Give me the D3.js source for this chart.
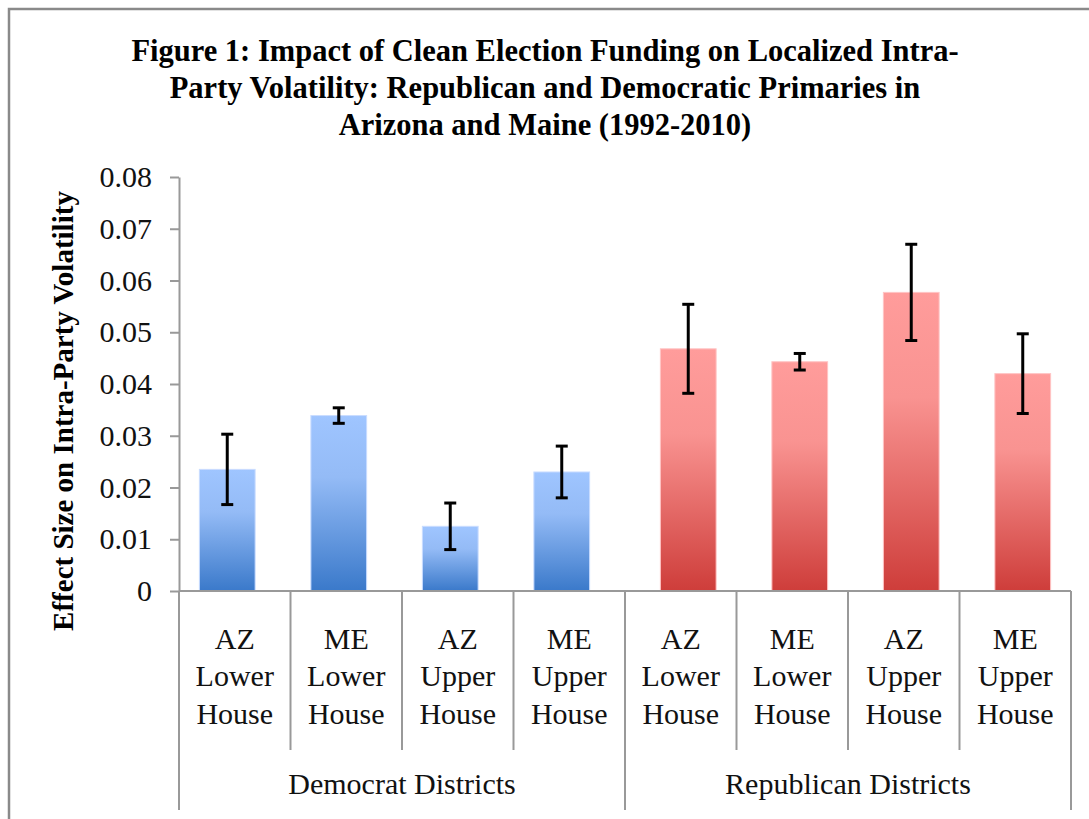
<!DOCTYPE html>
<html>
<head>
<meta charset="utf-8">
<script src="https://cdn.jsdelivr.net/npm/d3@7"></script>
<style>
  body { margin: 0; background: #fff; }
  text { font-family: "Liberation Serif", "Times New Roman", serif; }
</style>
</head>
<body>
<div id="chart"></div>
<script>
// chart data
const groups = ['Democrat Districts', 'Republican Districts'];
const houses = ['AZ Lower House', 'ME Lower House', 'AZ Upper House', 'ME Upper House'];
const demValues = [0.0235, 0.0339, 0.0125, 0.0230];
const demErrors = [0.0068, 0.0015, 0.0045, 0.0050];
const repValues = [0.0468, 0.0443, 0.0577, 0.0420];
const repErrors = [0.0086, 0.0016, 0.0093, 0.0077];
const yTicks = [0, 0.01, 0.02, 0.03, 0.04, 0.05, 0.06, 0.07, 0.08];
const yTickLabels = ['0', '0.01', '0.02', '0.03', '0.04', '0.05', '0.06', '0.07', '0.08'];
const titleLines = [
  'Figure 1: Impact of Clean Election Funding on Localized Intra-',
  'Party Volatility: Republican and Democratic Primaries in',
  'Arizona and Maine (1992-2010)'
];
const yTitle = 'Effect Size on Intra-Party Volatility';

const width = 1089;
const height = 819;
const axisColor = '#999';

// flatten into one row per bar
const rows = [];
groups.forEach((g, gi) => {
  const vals = gi === 0 ? demValues : repValues;
  const errs = gi === 0 ? demErrors : repErrors;
  houses.forEach((h, hi) => {
    rows.push({ key: g + '|' + h, group: g, house: h, value: vals[hi], err: errs[hi] });
  });
});

const svg = d3.select('#chart')
  .append('svg')
  .attr('width', width)
  .attr('height', height);

// gradients (light at top, dark at bottom)
const defs = svg.append('defs');
const grads = [
  { id: 'g0', stops: [['0%', '#9fc5ff'], ['35%', '#94bbf6'], ['100%', '#3a79ca']] },
  { id: 'g1', stops: [['0%', '#ff9c9b'], ['35%', '#f99391'], ['100%', '#ce3d3a']] }
];
grads.forEach(g => {
  const lg = defs.append('linearGradient')
    .attr('id', g.id)
    .attr('x1', 0).attr('y1', 0).attr('x2', 0).attr('y2', 1);
  g.stops.forEach(s => lg.append('stop').attr('offset', s[0]).attr('stop-color', s[1]));
});

// outer frame (left and top edges only are visible)
svg.append('path')
  .attr('d', `M9,${height} L9,9 L${width},9`)
  .attr('fill', 'none')
  .attr('stroke', '#8a8a8a')
  .attr('stroke-width', 2.5);

const x = d3.scaleBand()
  .domain(rows.map(d => d.key))
  .range([179, 1071])
  .padding(0);

// the two series sit slightly apart inside each slot
const xShift = d3.scalePoint()
  .domain(groups)
  .range([-7.5, 7.5]);

const y = d3.scaleLinear()
  .domain([0, 0.08])
  .range([591, 177]);

const barW = x.bandwidth() * 0.5;

// y axis
const yAxis = svg.append('g')
  .attr('transform', 'translate(179,0)')
  .call(d3.axisLeft(y)
    .tickValues(yTicks)
    .tickFormat((d, i) => yTickLabels[i])
    .tickSizeInner(9)
    .tickSizeOuter(0)
    .tickPadding(18));
yAxis.select('.domain').attr('stroke', axisColor).attr('stroke-width', 2);
yAxis.selectAll('.tick line').attr('stroke', axisColor).attr('stroke-width', 2);
yAxis.selectAll('.tick text')
  .attr('font-family', '"Liberation Serif", serif')
  .attr('font-size', 30)
  .attr('fill', '#111');

// bars
svg.selectAll('rect.bar')
  .data(rows)
  .enter()
  .append('rect')
  .attr('class', 'bar')
  .attr('x', d => x(d.key) + x.bandwidth() / 2 + xShift(d.group) - barW / 2)
  .attr('y', d => y(d.value))
  .attr('width', barW)
  .attr('height', d => y(0) - y(d.value))
  .attr('fill', d => groups.indexOf(d.group) === 0 ? 'url(#g0)' : 'url(#g1)')
  .attr('stroke', d => groups.indexOf(d.group) === 0 ? '#c9dcff' : '#ffc4c4')
  .attr('stroke-width', 1);

// baseline
svg.append('line')
  .attr('x1', x.range()[0]).attr('x2', x.range()[1])
  .attr('y1', y(0)).attr('y2', y(0))
  .attr('stroke', axisColor)
  .attr('stroke-width', 2);

// error bars
const capW = 12;
const eb = svg.selectAll('g.err')
  .data(rows)
  .enter()
  .append('g')
  .attr('class', 'err')
  .attr('transform', d => `translate(${x(d.key) + x.bandwidth() / 2 + xShift(d.group)},0)`);
eb.append('line')
  .attr('x1', 0).attr('x2', 0)
  .attr('y1', d => y(d.value + d.err))
  .attr('y2', d => y(d.value - d.err));
eb.append('line')
  .attr('x1', -capW / 2).attr('x2', capW / 2)
  .attr('y1', d => y(d.value + d.err))
  .attr('y2', d => y(d.value + d.err));
eb.append('line')
  .attr('x1', -capW / 2).attr('x2', capW / 2)
  .attr('y1', d => y(d.value - d.err))
  .attr('y2', d => y(d.value - d.err));
eb.selectAll('line')
  .attr('stroke', '#000')
  .attr('stroke-width', 3);

// category dividers: short ones between houses, long ones around groups
const edges = rows.map(d => x(d.key)).concat([x.range()[1]]);
edges.forEach((ex, i) => {
  const outer = i % houses.length === 0;
  svg.append('line')
    .attr('x1', ex).attr('x2', ex)
    .attr('y1', y(0))
    .attr('y2', outer ? 810 : 750)
    .attr('stroke', axisColor)
    .attr('stroke-width', 2);
});

// category labels (three lines each)
const catLabels = svg.selectAll('text.cat')
  .data(rows)
  .enter()
  .append('text')
  .attr('class', 'cat')
  .attr('text-anchor', 'middle')
  .attr('font-size', 30)
  .attr('fill', '#111');
catLabels.each(function(d) {
  const cx = x(d.key) + x.bandwidth() / 2;
  d.house.split(' ').forEach((w, i) => {
    d3.select(this).append('tspan')
      .attr('x', cx)
      .attr('y', 638 + i * 37.5)
      .attr('dy', '0.35em')
      .text(w);
  });
});

// group labels
groups.forEach(g => {
  const keys = rows.filter(d => d.group === g).map(d => d.key);
  const gx = (x(keys[0]) + x(keys[keys.length - 1]) + x.bandwidth()) / 2;
  svg.append('text')
    .attr('x', gx)
    .attr('y', 783)
    .attr('dy', '0.35em')
    .attr('text-anchor', 'middle')
    .attr('font-size', 30)
    .attr('fill', '#111')
    .text(g);
});

// title
svg.append('text')
  .attr('text-anchor', 'middle')
  .attr('font-size', 30.5)
  .attr('font-weight', 'bold')
  .attr('fill', '#000')
  .selectAll('tspan')
  .data(titleLines)
  .enter()
  .append('tspan')
  .attr('x', 545)
  .attr('y', (d, i) => 50 + i * 37)
  .attr('dy', '0.35em')
  .text(d => d);

// y axis title
svg.append('text')
  .attr('transform', 'translate(63,411) rotate(-90)')
  .attr('text-anchor', 'middle')
  .attr('dy', '0.35em')
  .attr('font-size', 29)
  .attr('font-weight', 'bold')
  .attr('fill', '#000')
  .text(yTitle);
</script>
</body>
</html>
